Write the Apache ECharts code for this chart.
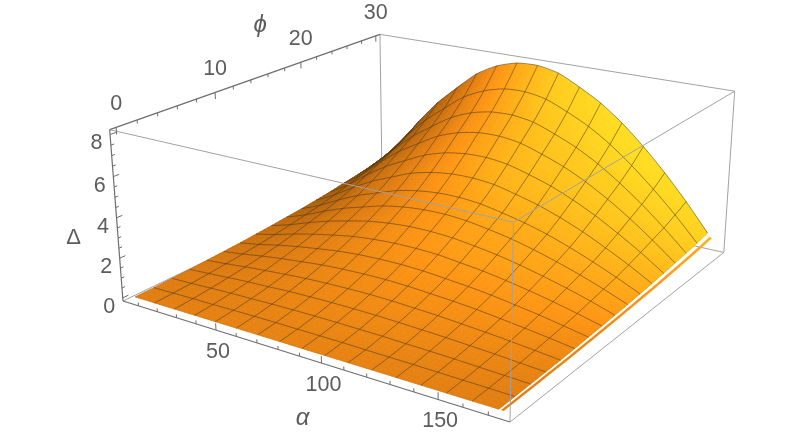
<!DOCTYPE html>
<html><head><meta charset="utf-8">
<style>html,body{margin:0;padding:0;background:#fff}#c{width:800px;height:438px}</style>
<script src="https://cdn.jsdelivr.net/npm/echarts@6/dist/echarts.min.js"></script>
</head><body><div id="c"></div>
<script>
// ---- data ----
const alphaValues=[5,15.44,25.88,36.31,46.75,57.19,67.63,78.06,88.5,98.94,109.38,119.81,130.25,140.69,151.13,161.56,172];
const phiValues=[0,1.875,3.75,5.625,7.5,9.375,11.25,13.125,15,16.875,18.75,20.625,22.5,24.375,26.25,28.125,30];
const deltaRows=[
[0,0,0,0,0,0,0,0,0,0,0,0,0,0,0,0,0],
[.01,.03,.05,.06,.08,.09,.10,.10,.10,.10,.09,.08,.07,.06,.04,.03,.01],
[.04,.07,.12,.16,.19,.22,.24,.25,.25,.24,.23,.20,.18,.15,.11,.07,.03],
[.06,.13,.21,.28,.33,.39,.42,.44,.44,.43,.40,.36,.32,.26,.20,.12,.05],
[.10,.20,.32,.42,.51,.59,.64,.67,.68,.66,.61,.56,.48,.40,.30,.19,.07],
[.14,.28,.45,.60,.72,.84,.91,.95,.96,.93,.86,.79,.69,.56,.42,.27,.10],
[.18,.37,.60,.80,.97,1.12,1.22,1.27,1.28,1.24,1.15,1.05,.92,.75,.57,.36,.14],
[.24,.48,.78,1.04,1.26,1.46,1.58,1.65,1.66,1.62,1.50,1.37,1.19,.98,.74,.47,.18],
[.30,.61,.99,1.33,1.60,1.85,2.01,2.10,2.11,2.05,1.91,1.74,1.51,1.24,.94,.60,.22],
[.37,.75,1.21,1.62,1.95,2.26,2.46,2.57,2.59,2.51,2.34,2.13,1.85,1.52,1.15,.73,.27],
[.44,.89,1.44,1.93,2.32,2.69,2.93,3.06,3.08,2.99,2.78,2.53,2.21,1.81,1.36,.87,.33],
[.53,1.08,1.74,2.33,2.80,3.25,3.53,3.69,3.71,3.61,3.35,3.05,2.66,2.19,1.64,1.05,.39],
[.63,1.28,2.08,2.78,3.34,3.87,4.22,4.40,4.43,4.30,4.00,3.64,3.17,2.61,1.96,1.25,.47],
[.75,1.51,2.44,3.27,3.93,4.56,4.96,5.18,5.21,5.06,4.70,4.28,3.73,3.07,2.31,1.47,.55],
[.86,1.74,2.81,3.76,4.53,5.24,5.71,5.96,6.00,5.83,5.42,4.93,4.30,3.53,2.66,1.69,.63],
[.99,2.01,3.25,4.34,5.23,6.06,6.59,6.89,6.93,6.73,6.26,5.70,4.97,4.08,3.07,1.96,.73],
[1.15,2.33,3.77,5.04,6.07,7.03,7.65,7.99,8.04,7.81,7.26,6.61,5.76,4.73,3.56,2.27,.85]
];
// the thin detached sliver at the high-alpha end of the surface
const stripAlpha=[173.0,173.95];
const stripDeltaInner=[0,.01,.02,.04,.05,.08,.11,.14,.17,.21,.26,.30,.37,.43,.49,.57,.66];
const stripDeltaOuter=[0,.01,.02,.04,.05,.07,.10,.13,.16,.20,.24,.28,.34,.40,.46,.53,.62];
const alphaTicks=[10,20,30,40,50,60,70,80,90,100,110,120,130,140,150,160,170];
const alphaLabels=[50,100,150];
const phiTicks=[0,2,4,6,8,10,12,14,16,18,20,22,24,26,28,30];
const phiLabels=[0,10,20,30];
const deltaTicks=[0,.5,1,1.5,2,2.5,3,3.5,4,4.5,5,5.5,6,6.5,7,7.5,8];
const deltaLabels=[0,2,4,6,8];
const alphaRange=[1.6,178.4], phiRange=[-0.6,30.6], deltaRange=[-0.16,8.23];

// ---- view: perspective of the unit box ----
const cam={x:[123,304.9,348,-17.7],y:[301,53.1,-83.5,-176.5],d:[1,-0.161,0.233,-0.040]};
const TEXT='#5c5c5c',AXIS='#6e6e6e',BOX='#a2a2a2';
const FONT='"Liberation Sans",Arimo,Helvetica,Arial,sans-serif';
const ramp=[[-.7,112,66,8],[-.5,148,84,10],[-.2,196,108,14],[0,224,125,17],[.3,255,150,20],[.7,255,195,28],[1,255,228,35]];

function project(api,a,p,z){
  const c=api.coord([a,p]),u=c[0]/api.getWidth(),v=1-c[1]/api.getHeight();
  const w=(z-deltaRange[0])/(deltaRange[1]-deltaRange[0]);
  const D=cam.d[0]+cam.d[1]*u+cam.d[2]*v+cam.d[3]*w;
  return [(cam.x[0]+cam.x[1]*u+cam.x[2]*v+cam.x[3]*w)/D,(cam.y[0]+cam.y[1]*u+cam.y[2]*v+cam.y[3]*w)/D];
}
function rampColor(t){
  t=Math.max(ramp[0][0],Math.min(ramp[ramp.length-1][0],t));
  for(let k=1;k<ramp.length;k++){ if(t<=ramp[k][0]){
    const A=ramp[k-1],B=ramp[k],f=(t-A[0])/(B[0]-A[0]);
    return 'rgb('+[1,2,3].map(n=>Math.round(A[n]+(B[n]-A[n])*f)).join(',')+')';
  }}
}
const nA=alphaValues.length,nP=phiValues.length;
const spanA=alphaRange[1]-alphaRange[0],spanP=phiRange[1]-phiRange[0],spanZ=deltaRange[1]-deltaRange[0];
function slopes(i,j){
  const i0=Math.max(i-1,0),i1=Math.min(i+1,nA-1),j0=Math.max(j-1,0),j1=Math.min(j+1,nP-1);
  return [(deltaRows[j][i1]-deltaRows[j][i0])/spanZ/((alphaValues[i1]-alphaValues[i0])/spanA),
          (deltaRows[j1][i]-deltaRows[j0][i])/spanZ/((phiValues[j1]-phiValues[j0])/spanP)];
}
function shade(zu,zv){
  const s=.4,nx=-zu*s,ny=-zv*s,l=Math.sqrt(1+nx*nx+ny*ny);
  return rampColor(1.05*nx/l-0.85*ny/l);
}
const SUB=4;
function renderFace(params,api){
  const i=api.value(2),j=api.value(3),kids=[];
  const a0=alphaValues[i],a1=alphaValues[i+1],p0=phiValues[j],p1=phiValues[j+1];
  const z=deltaRows,s00=slopes(i,j),s10=slopes(i+1,j),s01=slopes(i,j+1),s11=slopes(i+1,j+1);
  const bl=(q,r,f00,f10,f01,f11)=>f00*(1-q)*(1-r)+f10*q*(1-r)+f01*(1-q)*r+f11*q*r;
  const P=(q,r)=>project(api,a0+(a1-a0)*q,p0+(p1-p0)*r,bl(q,r,z[j][i],z[j][i+1],z[j+1][i],z[j+1][i+1]));
  for(let r=SUB-1;r>=0;r--)for(let q=0;q<SUB;q++){
    const q0=q/SUB,q1=(q+1)/SUB,r0=r/SUB,r1=(r+1)/SUB,qm=(q0+q1)/2,rm=(r0+r1)/2;
    const col=shade(bl(qm,rm,s00[0],s10[0],s01[0],s11[0]),bl(qm,rm,s00[1],s10[1],s01[1],s11[1]));
    kids.push({type:'polygon',shape:{points:[P(q0,r0),P(q1,r0),P(q1,r1),P(q0,r1)]},style:{fill:col,stroke:col,lineWidth:.7}});
  }
  return {type:'group',children:kids};
}
function renderStrip(params,api){
  const j=api.value(2);
  const P=(a,k,row)=>project(api,a,phiValues[k],row[k]);
  const s=slopes(nA-1,j),col=shade(s[0]*.5,s[1]*.6);
  return {type:'polygon',shape:{points:[P(stripAlpha[0],j,stripDeltaInner),P(stripAlpha[1],j,stripDeltaOuter),P(stripAlpha[1],j+1,stripDeltaOuter),P(stripAlpha[0],j+1,stripDeltaInner)]},style:{fill:col,stroke:col,lineWidth:.4}};
}
function renderMesh(params,api){
  const along=api.value(2),k=api.value(3),pts=[];
  if(along===0){for(let i=0;i<nA;i++)pts.push(project(api,alphaValues[i],phiValues[k],deltaRows[k][i]));}
  else{for(let j=0;j<nP;j++)pts.push(project(api,alphaValues[k],phiValues[j],deltaRows[j][k]));}
  const last=(along===0?nP:nA)-1,edge=(k===last&&along===0);
  if(k===0||k===last){ if(!edge) return {type:'polyline',shape:{points:pts},style:{fill:null,stroke:'rgba(90,60,20,.25)',lineWidth:.5}}; }
  return {type:'polyline',shape:{points:pts,smooth:.25},style:{fill:null,stroke:edge?'rgba(60,48,30,.7)':'rgba(72,54,24,.62)',lineWidth:edge?.7:.9}};
}
function renderSeg(color,width){
  return function(params,api){
    const A=project(api,api.value(0),api.value(1),api.value(2)),B=project(api,api.value(3),api.value(4),api.value(5));
    return {type:'line',shape:{x1:A[0],y1:A[1],x2:B[0],y2:B[1]},style:{stroke:color,lineWidth:width}};
  };
}
function renderText(font){
  return function(params,api){
    const A=project(api,api.value(0),api.value(1),api.value(2));
    return {type:'text',style:{x:A[0]+api.value(3),y:A[1]+api.value(4),text:String(api.value(5)),fill:TEXT,font:font,align:'center',verticalAlign:'middle'}};
  };
}
const amin=alphaRange[0],amax=alphaRange[1],pmin=phiRange[0],pmax=phiRange[1],zmin=deltaRange[0],zmax=deltaRange[1];
const backEdges=[[amin,pmax,zmax,amin,pmax,zmin],[amin,pmin,zmin,amin,pmax,zmin],[amin,pmax,zmin,amax,pmax,zmin],[amin,pmax,zmax,amax,pmax,zmax],[amax,pmax,zmax,amax,pmax,zmin],[amax,pmin,zmin,amax,pmax,zmin]];
const frontEdges=[[amin,pmin,zmax,amax,pmin,zmax],[amax,pmin,zmax,amax,pmax,zmax],[amax,pmin,zmax,amax,pmin,zmin]];
const axisEdges=[[amin,pmin,zmin,amax,pmin,zmin],[amin,pmin,zmin,amin,pmin,zmax],[amin,pmin,zmax,amin,pmax,zmax]];
const ticks=[];
alphaTicks.forEach(a=>{const m=alphaLabels.includes(a);ticks.push([a,pmin,zmin,a,pmin,zmin+(m?.33:.17)]);});
phiTicks.forEach(p=>{const m=phiLabels.includes(p);ticks.push([amin,p,zmax,amin,p,zmax-(m?.33:.17)]);});
deltaTicks.forEach(z=>{const m=deltaLabels.includes(z);ticks.push([amin,pmin,z,amin,pmin+(m?.55:.3),z]);});
const faces=[];
for(let j=nP-2;j>=0;j--)for(let i=0;i<nA-1;i++)faces.push([alphaValues[i],phiValues[j],i,j]);
const strips=[];for(let j=nP-2;j>=0;j--)strips.push([stripAlpha[0],phiValues[j],j]);
const meshes=[];
for(let j=0;j<nP;j++)meshes.push([alphaValues[0],phiValues[j],0,j]);
for(let i=0;i<nA;i++)meshes.push([alphaValues[i],phiValues[0],1,i]);
const tickText=[];
alphaLabels.forEach(a=>tickText.push([a,pmin,zmin,2,22,a]));
phiLabels.forEach(p=>tickText.push([amin,p,zmax,0,-23,p]));
deltaLabels.forEach(z=>tickText.push([amin,pmin,z,-13.5,9,z]));
const italicTitles=[[90,pmin,zmin,3,62,'α'],[amin,12,zmax,27,-61,'ϕ']];
const uprightTitles=[[amin,pmin,4,-43,20,'Δ']];

function cust(name,z,data,fn){
  return {type:'custom',name:name,coordinateSystem:'cartesian2d',z:z,data:data,renderItem:fn,silent:true,animation:false,clip:false,progressive:0,encode:{x:0,y:1}};
}
const chart=echarts.init(document.getElementById('c'),null,{renderer:'canvas'});
chart.setOption({
  backgroundColor:'#fff',animation:false,tooltip:{show:false},
  grid:{left:0,right:0,top:0,bottom:0,containLabel:false},
  xAxis:{type:'value',min:alphaRange[0],max:alphaRange[1],show:false},
  yAxis:{type:'value',min:phiRange[0],max:phiRange[1],show:false},
  series:[
    cust('back box',1,backEdges,renderSeg(BOX,1)),
    cust('surface',2,faces,renderFace),
    cust('strip',3,strips,renderStrip),
    cust('mesh',4,meshes,renderMesh),
    cust('front box',5,frontEdges,renderSeg(BOX,1)),
    cust('axes',6,axisEdges,renderSeg(AXIS,1.2)),
    cust('ticks',6,ticks,renderSeg(AXIS,1)),
    cust('tick labels',7,tickText,renderText('21.5px '+FONT)),
    cust('axis titles',7,italicTitles,renderText('italic 24px '+FONT)),
    cust('delta title',7,uprightTitles,renderText('22px '+FONT))
  ]
});
</script></body></html>
